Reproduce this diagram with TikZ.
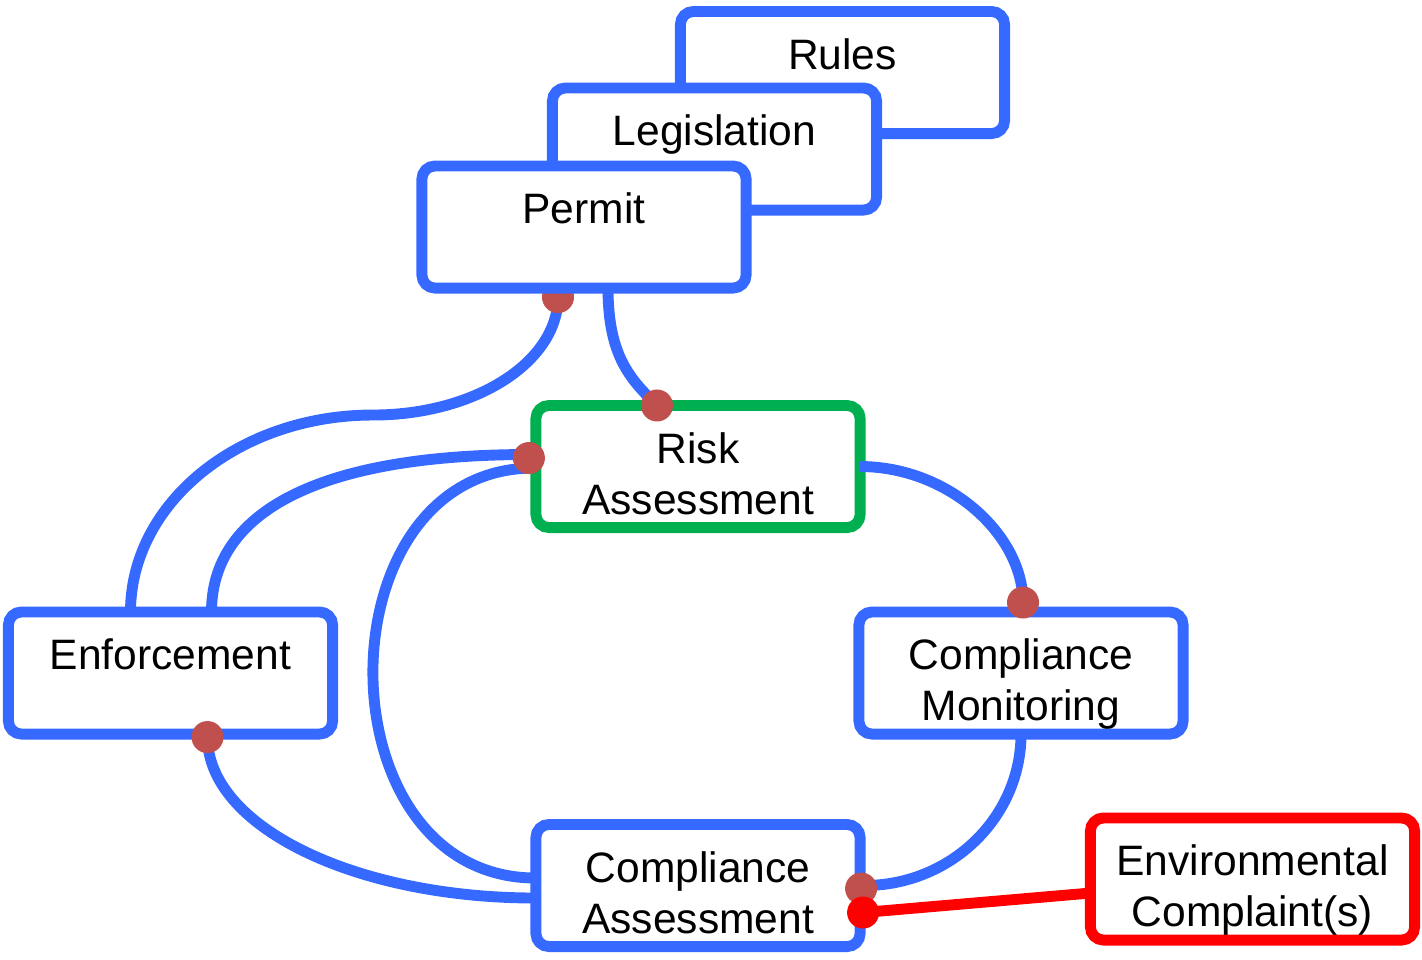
\documentclass[tikz,border=0pt]{standalone}
\usepackage{fontspec}
\setmainfont{Liberation Sans}
\definecolor{lineblue}{RGB}{54,105,255}
\definecolor{riskgreen}{RGB}{0,176,80}
\definecolor{dotbrown}{RGB}{192,80,77}
\definecolor{alertred}{RGB}{255,0,0}
\pgfdeclarelayer{back}
\pgfsetlayers{back,main}
\tikzset{
	box/.style={draw=lineblue, line width=3.1pt, fill=white, rounded corners=0.13cm,
		minimum width=3.24cm, minimum height=1.22cm, inner sep=0pt, outer sep=0pt},
	txt/.style={anchor=north, align=center, inner sep=0pt, font=\fontsize{12.1}{14.5}\selectfont},
	link/.style={draw=lineblue, line width=3.1pt},
	dot/.style={fill=dotbrown},
}

\begin{document}
\begin{tikzpicture}[x=0.01cm, y=-0.01cm]
	\useasboundingbox (0,0) rectangle (1422,959);
	% the boxes
	\node[box] (rules) at (842.5,72.5) {};
	\node[txt] (rules-t) at ([shift={(0,26)}]rules.north) {Rules};
	\node[box] (legis) at (714.5,149) {};
	\node[txt] (legis-t) at ([shift={(0,26)}]legis.north) {Legislation};
	\node[box] (permit) at (584,227) {};
	\node[txt] (permit-t) at ([shift={(0,26)}]permit.north) {Permit};
	\node[box, draw=riskgreen] (risk) at (698,466.5) {};
	\node[txt] (risk-t) at ([shift={(0,26)}]risk.north) {Risk\\Assessment};
	\node[box] (enf) at (170.5,673) {};
	\node[txt] (enf-t) at ([shift={(0,26)}]enf.north) {Enforcement};
	\node[box] (monit) at (1021,673) {};
	\node[txt] (monit-t) at ([shift={(0,26)}]monit.north) {Compliance\\Monitoring};
	\node[box] (cassess) at (698,885.5) {};
	\node[txt] (cassess-t) at ([shift={(0,26)}]cassess.north) {Compliance\\Assessment};
	\node[box, draw=alertred] (complaint) at (1252.5,879) {};
	\node[txt] (complaint-t) at ([shift={(0,26)}]complaint.north) {Environmental\\Complaint(s)};
	\coordinate (bend) at (373,415);
	% enforcement to permit goes under the permit box
	\begin{pgfonlayer}{back}
		\draw[link] ([shift={(-40,0)}]enf.north) .. controls +(0,-109) and +(-134,0) .. (bend)
			.. controls +(102,0) and +(0,65) .. ([shift={(-26,9)}]permit.south);
		\fill[dot] ([shift={(-26,9)}]permit.south) circle (0.16cm);
	\end{pgfonlayer}
	% the other links
	\draw[link] ([shift={(24,0)}]permit.south) .. controls +(0,70) and +(-25,-25) .. ([shift={(-41,0)}]risk.north);
	\draw[link] ([shift={(41,0)}]enf.north) .. controls +(0,-100) and +(-210,0) .. ([shift={(-7,-12)}]risk.west);
	\draw[link] ([shift={(-2,1.5)}]risk.west) .. controls +(-215,0) and +(-217,0) .. ([shift={(0,-7.5)}]cassess.west);
	\draw[link] ([shift={(37,3)}]enf.south) .. controls +(0,89) and +(-182,0) .. ([shift={(0,12.5)}]cassess.west);
	\draw[link] (risk.east) .. controls +(88,0) and +(0,-68) .. ([shift={(2,-9.5)}]monit.north);
	\draw[link] (monit.south) .. controls +(0,83) and +(87,0) .. ([shift={(4,0)}]cassess.east);
	\draw[link, draw=alertred] ([shift={(0,14)}]complaint.west) -- ([shift={(3,27)}]cassess.east);
	% dots at the link ends
	\fill[dot] ([shift={(-41,0)}]risk.north) circle (0.16cm);
	\fill[dot] ([shift={(-7,-8.5)}]risk.west) circle (0.16cm);
	\fill[dot] ([shift={(37,3)}]enf.south) circle (0.16cm);
	\fill[dot] ([shift={(2,-9.5)}]monit.north) circle (0.16cm);
	\fill[dot] ([shift={(1,3)}]cassess.east) circle (0.16cm);
	\fill[alertred] ([shift={(3,27)}]cassess.east) circle (0.16cm);
\end{tikzpicture}
\end{document}
